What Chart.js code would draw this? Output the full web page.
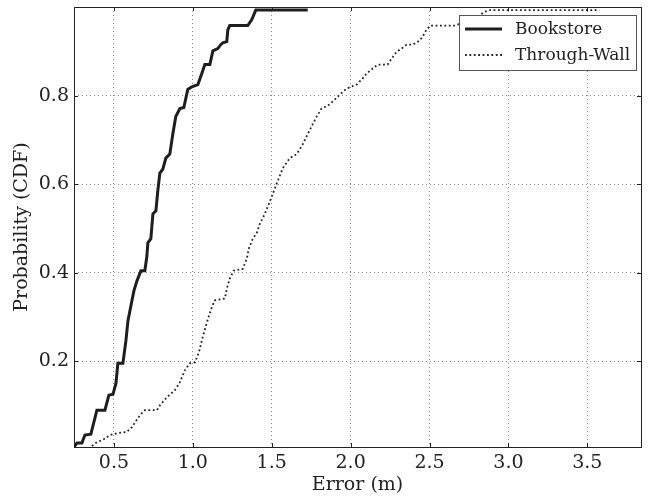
<!DOCTYPE html>
<html>
<head>
<meta charset="utf-8">
<script src="https://cdn.jsdelivr.net/npm/chart.js@4.4.1/dist/chart.umd.min.js"></script>
<style>
  html, body { margin: 0; padding: 0; background: #fff; }
  #wrap { width: 651px; height: 496px; }
</style>
</head>
<body>
<div id="wrap"><canvas id="myChart"></canvas></div>
<script>
// localization error CDFs
const bookstoreErr = [0.247, 0.266, 0.297, 0.316, 0.354, 0.392, 0.443, 0.468, 0.494, 0.513, 0.525, 0.557, 0.576, 0.589, 0.614, 0.627, 0.646, 0.671, 0.696, 0.709, 0.715, 0.734, 0.747, 0.766, 0.778, 0.791, 0.810, 0.829, 0.854, 0.873, 0.892, 0.918, 0.943, 0.968, 0.994, 1.032, 1.057, 1.076, 1.108, 1.127, 1.158, 1.177, 1.190, 1.215, 1.222, 1.234, 1.348, 1.373, 1.399, 1.728];
const bookstoreCdf = [0.007, 0.016, 0.016, 0.034, 0.036, 0.090, 0.090, 0.124, 0.126, 0.151, 0.196, 0.196, 0.247, 0.292, 0.337, 0.360, 0.382, 0.405, 0.405, 0.438, 0.468, 0.477, 0.533, 0.540, 0.585, 0.625, 0.634, 0.659, 0.668, 0.713, 0.753, 0.771, 0.773, 0.814, 0.820, 0.825, 0.850, 0.870, 0.870, 0.901, 0.906, 0.915, 0.919, 0.922, 0.949, 0.958, 0.958, 0.971, 0.993, 0.993];

const wallErr = [0.361, 0.392, 0.430, 0.475, 0.519, 0.582, 0.614, 0.665, 0.696, 0.772, 0.791, 0.835, 0.886, 0.918, 0.949, 0.981, 1.013, 1.038, 1.063, 1.095, 1.120, 1.139, 1.203, 1.215, 1.234, 1.259, 1.316, 1.342, 1.354, 1.380, 1.405, 1.424, 1.456, 1.487, 1.532, 1.570, 1.614, 1.658, 1.696, 1.728, 1.759, 1.785, 1.816, 1.867, 1.899, 1.930, 1.975, 2.038, 2.070, 2.101, 2.139, 2.171, 2.234, 2.259, 2.291, 2.323, 2.354, 2.392, 2.437, 2.456, 2.481, 2.506, 2.658, 2.785, 2.848, 2.880, 3.576];
const wallCdf = [0.009, 0.018, 0.023, 0.034, 0.038, 0.041, 0.052, 0.079, 0.090, 0.090, 0.101, 0.119, 0.135, 0.153, 0.180, 0.196, 0.198, 0.220, 0.256, 0.295, 0.322, 0.338, 0.342, 0.364, 0.387, 0.405, 0.409, 0.432, 0.454, 0.477, 0.490, 0.510, 0.533, 0.560, 0.602, 0.636, 0.659, 0.668, 0.690, 0.713, 0.735, 0.753, 0.771, 0.780, 0.791, 0.802, 0.816, 0.825, 0.836, 0.850, 0.861, 0.870, 0.870, 0.883, 0.899, 0.906, 0.915, 0.915, 0.924, 0.933, 0.949, 0.958, 0.958, 0.973, 0.989, 0.993, 0.993];

const xTicks = [0.5, 1.0, 1.5, 2.0, 2.5, 3.0, 3.5];
const yTicks = [0.2, 0.4, 0.6, 0.8];

const serif = "'DejaVu Serif', serif";

function toPoints(xs, ys) {
  return xs.map((x, i) => ({ x: x, y: ys[i] }));
}

// axes frame, inward tick marks and the boxed legend in the upper right
const framePlugin = {
  id: 'frame',
  afterDatasetsDraw(chart) {
    const { ctx, chartArea: a, scales } = chart;
    ctx.save();
    ctx.strokeStyle = '#222';
    ctx.lineWidth = 1;
    ctx.beginPath();
    xTicks.forEach(v => {
      const px = Math.round(scales.x.getPixelForValue(v)) + 0.5;
      ctx.moveTo(px, a.bottom); ctx.lineTo(px, a.bottom - 4);
      ctx.moveTo(px, a.top); ctx.lineTo(px, a.top + 4);
    });
    yTicks.forEach(v => {
      const py = Math.round(scales.y.getPixelForValue(v)) + 0.5;
      ctx.moveTo(a.left, py); ctx.lineTo(a.left + 4, py);
      ctx.moveTo(a.right, py); ctx.lineTo(a.right - 4, py);
    });
    ctx.stroke();
    ctx.strokeRect(Math.round(a.left) + 0.5, Math.round(a.top) + 0.5,
      Math.round(a.right - a.left), Math.round(a.bottom - a.top));

    // legend
    const bx = a.right - 182, by = a.top + 8, bw = 177, bh = 55;
    ctx.fillStyle = '#fff';
    ctx.fillRect(bx, by, bw, bh);
    ctx.strokeStyle = '#555';
    ctx.strokeRect(bx + 0.5, by + 0.5, bw, bh);
    ctx.font = '17px ' + serif;
    ctx.textBaseline = 'middle';
    chart.data.datasets.forEach((ds, i) => {
      const ry = by + 14 + i * 26;
      ctx.strokeStyle = ds.borderColor;
      ctx.lineWidth = ds.borderWidth;
      ctx.setLineDash(ds.borderDash || []);
      ctx.beginPath();
      ctx.moveTo(bx + 6, ry); ctx.lineTo(bx + 43, ry);
      ctx.stroke();
      ctx.setLineDash([]);
      ctx.fillStyle = '#222';
      ctx.fillText(ds.label, bx + 56, ry + 1);
    });
    ctx.restore();
  }
};

const gridStyle = { color: '#888', drawTicks: false };
const borderStyle = { display: false, dash: [1, 3] };

const ctx = document.getElementById('myChart').getContext('2d');
const myChart = new Chart(ctx, {
  type: 'line',
  data: {
    datasets: [{
      label: 'Bookstore',
      data: toPoints(bookstoreErr, bookstoreCdf),
      borderColor: '#1e1e1e',
      borderWidth: 3,
      pointRadius: 0,
      tension: 0,
      fill: false,
    }, {
      label: 'Through-Wall',
      data: toPoints(wallErr, wallCdf),
      borderColor: '#222',
      borderWidth: 1.8,
      borderDash: [1.8, 2.6],
      pointRadius: 0,
      tension: 0,
      fill: false,
    }]
  },
  options: {
    responsive: true,
    maintainAspectRatio: false,
    animation: false,
    layout: { padding: { top: 7, right: 10, left: 0, bottom: 0 } },
    plugins: {
      legend: { display: false },
      tooltip: { enabled: false }
    },
    scales: {
      x: {
        type: 'linear',
        min: 0.247,
        max: 3.84,
        afterBuildTicks: s => { s.ticks = xTicks.map(v => ({ value: v })); },
        afterFit: s => { s.height = 49; s.paddingLeft = 0; s.paddingRight = 0; },
        ticks: {
          font: { family: serif, size: 19 },
          color: '#222',
          padding: 5,
          callback: v => v.toFixed(1)
        },
        grid: gridStyle,
        border: borderStyle,
        title: {
          display: true,
          text: 'Error (m)',
          font: { family: serif, size: 19 },
          color: '#222',
          padding: { top: 0, bottom: 0 }
        }
      },
      y: {
        min: 0.007,
        max: 1.0,
        afterBuildTicks: s => { s.ticks = yTicks.map(v => ({ value: v })); },
        afterFit: s => { s.width = 74; s.paddingTop = 0; s.paddingBottom = 0; },
        ticks: {
          font: { family: serif, size: 19 },
          color: '#222',
          padding: 5,
          callback: v => v.toFixed(1)
        },
        grid: gridStyle,
        border: borderStyle,
        title: {
          display: true,
          text: 'Probability (CDF)',
          font: { family: serif, size: 19 },
          color: '#222',
          padding: { top: 11, bottom: 0 }
        }
      }
    }
  },
  plugins: [framePlugin]
});
</script>
</body>
</html>
